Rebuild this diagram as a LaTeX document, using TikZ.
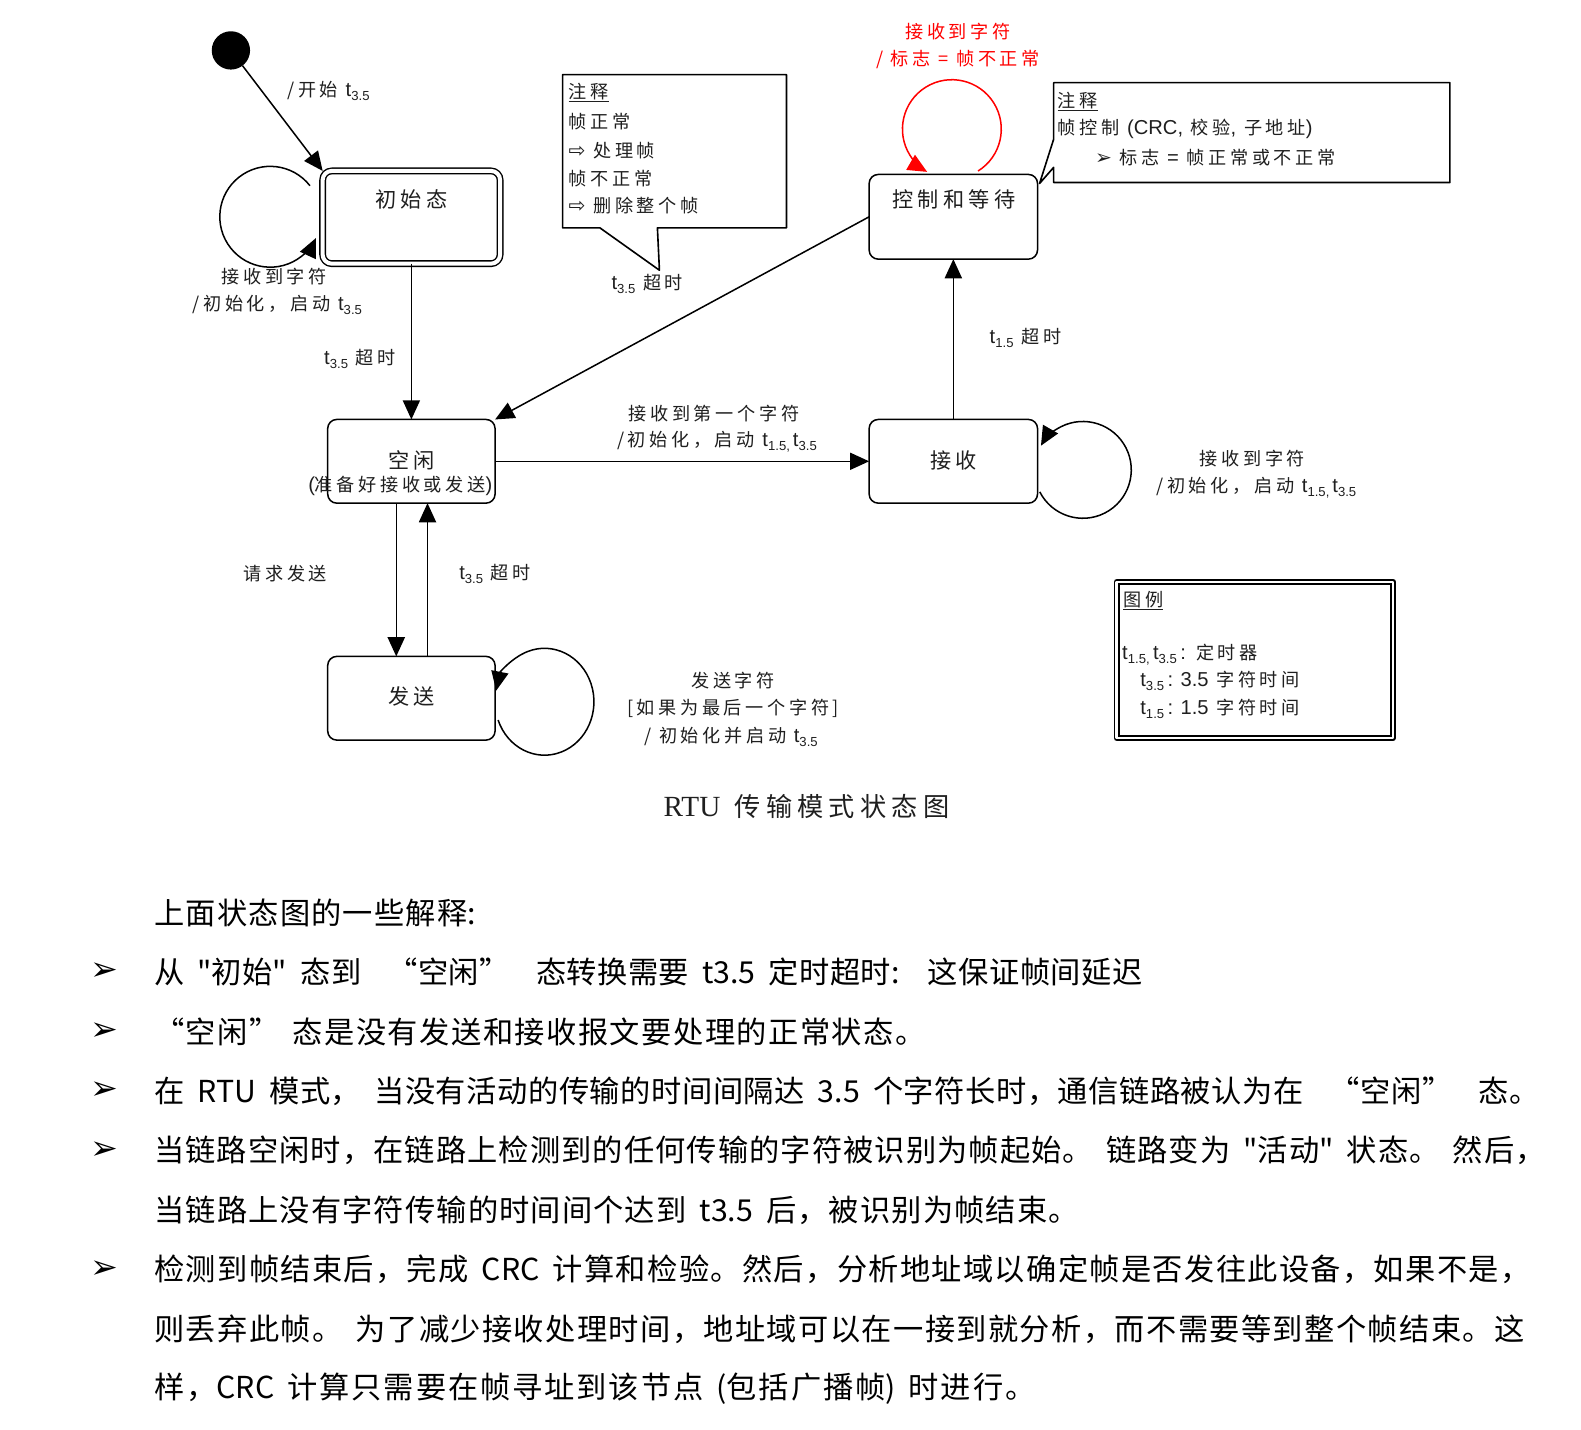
\documentclass[tikz,border=0pt]{standalone}
\usepackage{fontspec}
\usetikzlibrary{arrows.meta}
\setmainfont[LetterSpace=20]{Noto Sans CJK SC}
\newfontfamily\lat{Liberation Sans}
\newfontfamily\bodyf{Noto Sans CJK SC}
\newfontfamily\symf{DejaVu Sans}
\newfontfamily\capser{Liberation Serif}
\newcommand\fsz[1]{\fontsize{#1}{#1}\selectfont}
\newcommand\tsb[1]{{\lat\fsz{20}t\raisebox{-4pt}{\fsz{13}#1}}}
% inter-character stretch for justified body lines
\newcount\cjcnt
\cjcnt="4E00
\loop\XeTeXcharclass\cjcnt=7 \advance\cjcnt by 1 \ifnum\cjcnt<"A000 \repeat
\cjcnt="3000
\loop\XeTeXcharclass\cjcnt=7 \advance\cjcnt by 1 \ifnum\cjcnt<"3040 \repeat
\cjcnt="FF00
\loop\XeTeXcharclass\cjcnt=7 \advance\cjcnt by 1 \ifnum\cjcnt<"FF60 \repeat
\XeTeXcharclass"201C=7
\XeTeXcharclass"201D=7
\XeTeXinterchartoks 7 7 = {\hskip0pt plus 1fil\relax}
\newcommand\bodysetup{\bodyf\fsz{30}\XeTeXinterchartokenstate=1\relax\spaceskip=13pt plus 1pt minus 1pt\relax}
\begin{document}
\begin{tikzpicture}[x=1pt,y=-1pt, line join=round,
  every node/.style={inner sep=0pt, outer sep=0pt, text=black!88},
  stbox/.style={draw, line width=1.5pt, rounded corners=9pt, minimum height=83pt},
  arr/.style={line width=1.5pt, -{Triangle[length=19pt,width=17pt]}},
  lbl/.style={font=\fsz{18}, align=center},
  sname/.style={font=\fsz{21}},
  note/.style={draw, line width=1.6pt, fill=white},
  ntext/.style={font=\fsz{18}, anchor=west},
  body/.style={font=\bodysetup, anchor=west, text=black},
  bul/.style={font=\symf\fsz{33}, text=black}
]
\useasboundingbox (0,0) rectangle (1568,1418);
\fill[white] (0,0) rectangle (1568,1418);

% states
\node[circle, fill=black, minimum size=38pt] (start) at (229,50) {};
\node[draw, line width=1.4pt, double, double distance=4pt, rounded corners=9pt,
      minimum width=176pt, minimum height=92pt] (init) at (408,215.5) {};
\node[sname] (initT) at (408,198) {初始态};
\node[stbox, minimum width=166pt] (idle) at (408,457.5) {};
\node[sname] (idleA) at (408,457) {空闲};
\node[lbl] (idleB) at (397,482) {{\lat\fsz{20}(}准备好接收或发送{\lat\fsz{20})}};
\node[stbox, minimum width=167pt] (recv) at (945.5,457.5) {};
\node[sname] (recvT) at (946,457) {接收};
\node[stbox, minimum width=167pt, minimum height=84pt] (ctrl) at (945.5,215) {};
\node[sname] (ctrlT) at (946,198) {控制和等待};
\node[stbox, minimum width=166pt] (send) at (408,692.5) {};
\node[sname] (sendT) at (408,691) {发送};

% connectors
\draw[arr] (start) -- (init.north west);
\draw[arr] (init.south) -- (idle.north);
\draw[arr] (ctrl.west) -- (idle.north east);
\draw[arr] (idle.east) -- (recv.west);
\draw[arr] (recv.north) -- (ctrl.south);
\draw[arr] ([xshift=-15pt]idle.south) -- ([xshift=-15pt]send.north);
\draw[arr] ([xshift=16pt]send.north) -- ([xshift=16pt]idle.south);

% self loops
\draw[arr] ([shift={(-12.6,-31.3)}]init.west) arc[start angle=-38, end angle=-335, radius=50];
\draw[arr] ([shift={(2.2,30.3)}]recv.east) arc[start angle=153, end angle=-150, radius=48];
\draw[arr] ([shift={(3,21.6)}]send.east) arc[start angle=160, end angle=-168, x radius=49, y radius=53];
\draw[arr, red] ([shift={(24.5,-3.4)}]ctrl.north) arc[start angle=58, end angle=-240, radius=49];

% labels
\node[lbl, anchor=west] (l1) at (285,90) {/开始 \tsb{3.5}};
\node[lbl] (l2) at (272,274) {接收到字符};
\node[lbl] (l3) at (275,302) {/初始化，启动 \tsb{3.5}};
\node[lbl] (l4) at (357,356) {\tsb{3.5} 超时};
\node[lbl] (l5) at (708,410) {接收到第一个字符};
\node[lbl] (l6) at (711,438) {/初始化，启动 \tsb{1.5,}\,\tsb{3.5}};
\node[lbl] (l7) at (1017,335) {\tsb{1.5} 超时};
\node[lbl] (l8) at (1242,455) {接收到字符};
\node[lbl] (l9) at (1246,484) {/初始化，启动 \tsb{1.5,}\,\tsb{3.5}};
\node[lbl] (l10) at (283,569) {请求发送};
\node[lbl] (l11) at (491,569) {\tsb{3.5} 超时};
\node[lbl] (l12) at (727,675) {发送字符};
\node[lbl] (l13) at (727,703) {[如果为最后一个字符]};
\node[lbl] (l14) at (725,731) {/ 初始化并启动 \tsb{3.5}};
\node[lbl, text=red] (l15) at (950,31) {接收到字符};
\node[lbl, text=red] (l16) at (950,59) {/ 标志 = 帧不正常};

% note 1
\draw[note] (558,74) -- (780,74) -- (780,226) -- (652,226) -- (654,268) -- (595,226) -- (558,226) -- cycle;
\node[ntext] (n1a) at (564,92) {\underline{注释}};
\node[ntext] (n1b) at (564,121) {帧正常};
\node[ntext] (n1c) at (564,149) {{\symf\fsz{20}⇨} 处理帧};
\node[ntext] (n1d) at (564,177) {帧不正常};
\node[ntext] (n1e) at (564,204) {{\symf\fsz{20}⇨} 删除整个帧};
\node[lbl] (n1t) at (642,282) {\tsb{3.5} 超时};

% note 2
\draw[note] (1045,82) -- (1438,82) -- (1438,181) -- (1045,181) -- (1045,166) -- (1031,182) -- (1045,138) -- cycle;
\node[ntext] (n2a) at (1049,101) {\underline{注释}};
\node[ntext] (n2b) at (1049,128) {帧控制 {\lat\fsz{20}(CRC,} 校验{\lat\fsz{20},} 子地址{\lat\fsz{20})}};
\node[ntext] (n2c) at (1086,156) {{\symf\fsz{20}➢} 标志 {\lat\fsz{20}=} 帧正常或不正常};

% legend
\node[draw, line width=1.8pt, double, double distance=2.5pt, minimum width=274pt, minimum height=155pt] (leg) at (1244.5,654.5) {};
\node[ntext] (g1) at (1114,596) {\underline{图例}};
\node[ntext] (g2) at (1113,649) {{\lat\fsz{20}t\raisebox{-4pt}{\fsz{13}1.5,}\,t\raisebox{-4pt}{\fsz{13}3.5}\,:} 定时器};
\node[ntext] (g3) at (1131,675) {\tsb{3.5}{\lat\fsz{20}\,: 3.5} 字符时间};
\node[ntext] (g4) at (1131,703) {\tsb{1.5}{\lat\fsz{20}\,: 1.5} 字符时间};

% caption
\node (cap) at (800,800) {{\capser\fsz{29}RTU}\hspace{14pt}{\fsz{26}传输模式状态图}};

% body text
\node[body] (b0) at (153,905) {\hbox to 319pt{上面状态图的一些解释:}};
\node[bul] (u1) at (104,964) {➢};
\node[body] (b1) at (153,964) {\hbox to 980pt{从 "初始" 态到 \ “空闲” \ 态转换需要 t3.5 定时超时: \ 这保证帧间延迟}};
\node[bul] (u2) at (104,1023) {➢};
\node[body] (b2) at (153,1023) {\hbox to 765pt{“空闲” 态是没有发送和接收报文要处理的正常状态。}};
\node[bul] (u3) at (104,1082) {➢};
\node[body] (b3) at (153,1082) {\hbox to 1374pt{在 RTU 模式， 当没有活动的传输的时间间隔达 3.5 个字符长时，通信链路被认为在 \ “空闲” \ 态。}};
\node[bul] (u4) at (104,1141) {➢};
\node[body] (b4) at (153,1141) {\hbox to 1380pt{当链路空闲时，在链路上检测到的任何传输的字符被识别为帧起始。 链路变为 "活动" 状态。 然后，}};
\node[body] (b5) at (153,1200) {\hbox to 917pt{当链路上没有字符传输的时间间个达到 t3.5 后，被识别为帧结束。}};
\node[bul] (u6) at (104,1259) {➢};
\node[body] (b6) at (153,1259) {\hbox to 1365pt{检测到帧结束后，完成 CRC 计算和检验。然后，分析地址域以确定帧是否发往此设备，如果不是，}};
\node[body] (b7) at (153,1318) {\hbox to 1359pt{则丢弃此帧。 为了减少接收处理时间，地址域可以在一接到就分析，而不需要等到整个帧结束。这}};
\node[body] (b8) at (153,1377) {\hbox to 874pt{样，CRC 计算只需要在帧寻址到该节点 (包括广播帧) 时进行。}};
\end{tikzpicture}
\end{document}
